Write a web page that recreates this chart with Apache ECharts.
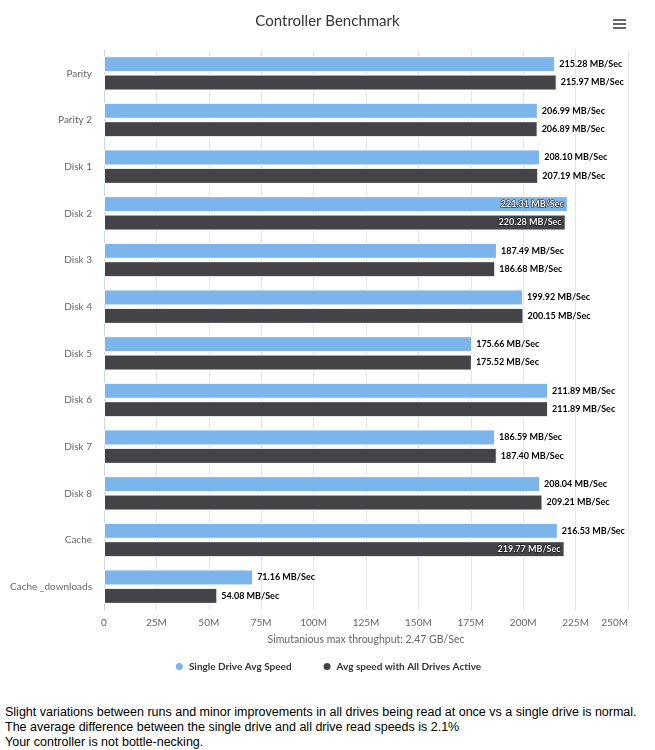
<!DOCTYPE html>
<html>
<head>
<meta charset="UTF-8">
<title>Controller Benchmark</title>
<script src="https://cdn.jsdelivr.net/npm/echarts@6/dist/echarts.min.js"></script>
<style>
    body { margin: 0; background: #fff; }
    #main { width: 655px; height: 695px; }
    .note { font-family: "Liberation Sans", Arial, sans-serif; font-size: 12.5px; line-height: 15px; color: #000; padding-left: 5px; margin-top: 10px; white-space: nowrap; }
</style>
</head>
<body>
<div id="main"></div>
<div class="note">
    Slight variations between runs and minor improvements in all drives being read at once vs a single drive is normal.<br>
    The average difference between the single drive and all drive read speeds is 2.1%<br>
    Your controller is not bottle-necking.
</div>
<script>
var drives = ['Parity', 'Parity 2', 'Disk 1', 'Disk 2', 'Disk 3', 'Disk 4', 'Disk 5', 'Disk 6', 'Disk 7', 'Disk 8', 'Cache', 'Cache _downloads'];
var singleSpeed = [215.28, 206.99, 208.10, 221.31, 187.49, 199.92, 175.66, 211.89, 186.59, 208.04, 216.53, 71.16];
var allSpeed = [215.97, 206.89, 207.19, 220.28, 186.68, 200.15, 175.52, 211.89, 187.40, 209.21, 219.77, 54.08];
var axisTicks = [0, 25, 50, 75, 100, 125, 150, 175, 200, 225, 250];

var font = 'Lato, "DejaVu Sans", sans-serif';

// labels that don't fit outside go inside the bar (like the original)
function toData(arr) {
    return arr.map(function (v) {
        if (v > 219) {
            return { value: v, label: { position: 'insideRight', color: '#fff', textBorderColor: '#000', textBorderWidth: 1 } };
        }
        return v;
    });
}

var labelStyle = {
    show: true,
    position: 'right',
    distance: 4,
    fontFamily: font,
    fontSize: 9,
    fontWeight: 'bold',
    color: '#000',
    textBorderColor: '#fff',
    textBorderWidth: 1,
    formatter: function (p) { return p.value.toFixed(2) + ' MB/Sec'; }
};

var chart = echarts.init(document.getElementById('main'));
chart.setOption({
    animation: false,
    textStyle: { fontFamily: font },
    title: {
        text: 'Controller Benchmark',
        left: 'center',
        top: 9,
        textStyle: { fontFamily: font, fontSize: 15, fontWeight: 'normal', color: '#333' }
    },
    graphic: [
        { type: 'rect', left: 613, top: 19, shape: { width: 13, height: 2 }, style: { fill: '#666' } },
        { type: 'rect', left: 613, top: 23, shape: { width: 13, height: 2 }, style: { fill: '#666' } },
        { type: 'rect', left: 613, top: 27, shape: { width: 13, height: 2 }, style: { fill: '#666' } }
    ],
    legend: {
        bottom: 18,
        left: 'center',
        icon: 'circle',
        itemWidth: 9,
        itemHeight: 9,
        itemGap: 30,
        textStyle: { fontFamily: font, fontSize: 10, fontWeight: 'bold', color: '#333' },
        data: ['Single Drive Avg Speed', 'Avg speed with All Drives Active']
    },
    grid: { left: 104, right: 27, top: 50, bottom: 85 },
    xAxis: {
        type: 'value',
        min: axisTicks[0],
        max: axisTicks[axisTicks.length - 1],
        interval: 25,
        name: 'Simutanious max throughput: 2.47 GB/Sec',
        nameLocation: 'middle',
        nameGap: 24,
        nameTextStyle: { fontFamily: font, fontSize: 10.5, color: '#666' },
        axisLine: { show: false },
        axisTick: { show: false },
        splitLine: { lineStyle: { color: '#e6e6e6' } },
        axisLabel: {
            fontFamily: font, fontSize: 10, color: '#666', margin: 8,
            alignMaxLabel: 'right',
            formatter: function (v) { return v === 0 ? '0' : v + 'M'; }
        }
    },
    yAxis: {
        type: 'category',
        inverse: true,
        data: drives,
        axisLine: { lineStyle: { color: '#ccd6eb' } },
        axisTick: { show: false },
        axisLabel: { fontFamily: font, fontSize: 10, color: '#666', margin: 12 }
    },
    series: [
        {
            name: 'Single Drive Avg Speed',
            type: 'bar',
            barWidth: 16,
            barGap: '15%',
            itemStyle: { color: '#7cb5ec', borderColor: '#fff', borderWidth: 1 },
            label: labelStyle,
            data: toData(singleSpeed)
        },
        {
            name: 'Avg speed with All Drives Active',
            type: 'bar',
            barWidth: 16,
            itemStyle: { color: '#434348', borderColor: '#fff', borderWidth: 1 },
            label: labelStyle,
            data: toData(allSpeed)
        }
    ]
});
</script>
</body>
</html>
